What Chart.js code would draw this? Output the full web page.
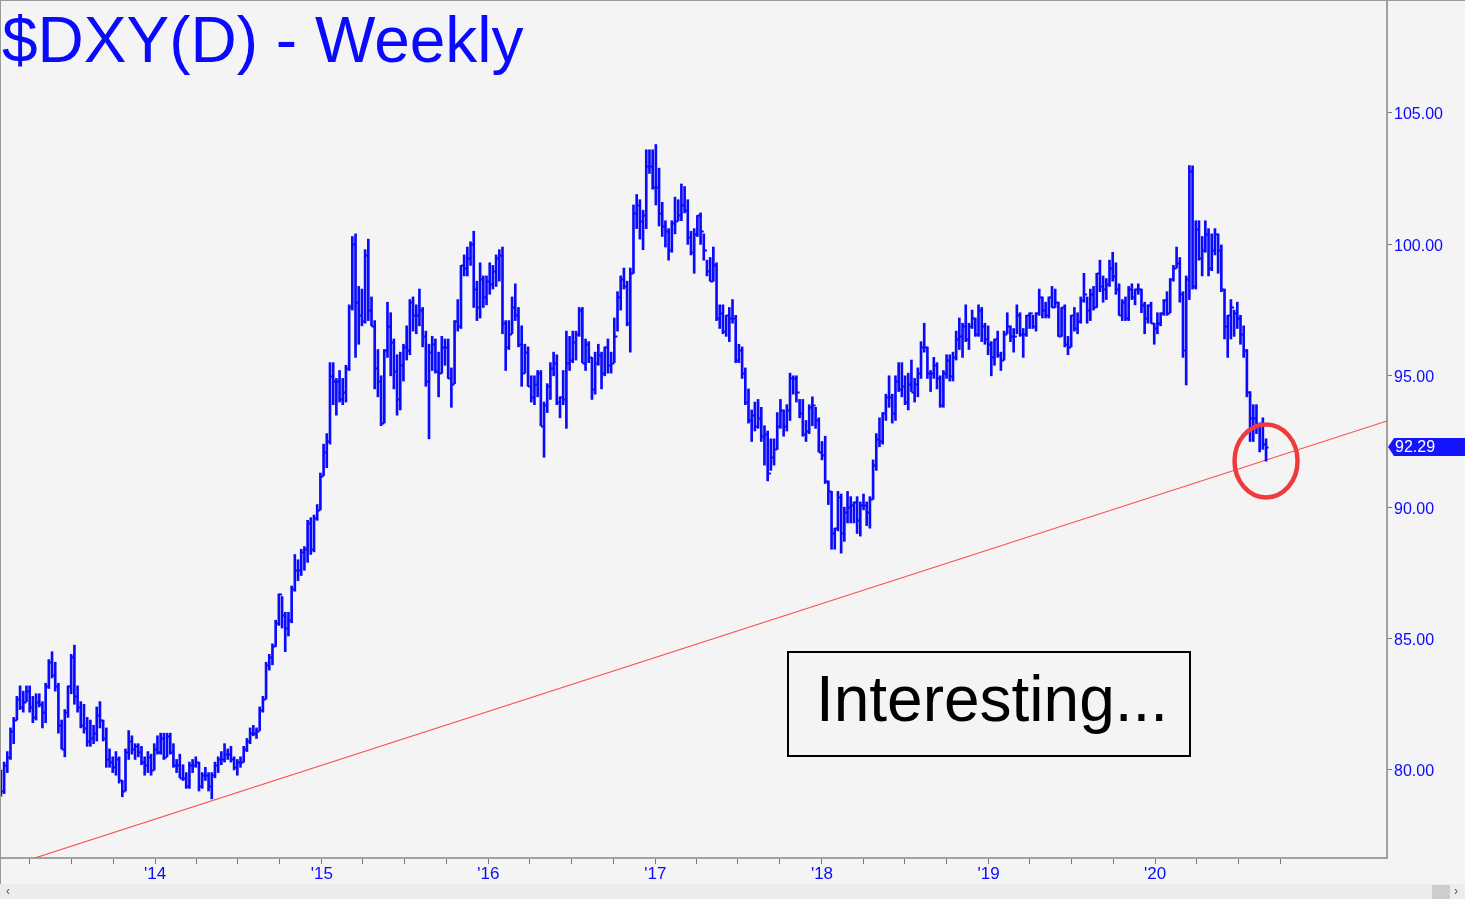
<!DOCTYPE html>
<html>
<head>
<meta charset="utf-8">
<title>$DXY(D) - Weekly</title>
<script src="https://cdn.jsdelivr.net/npm/chart.js@4.4.1/dist/chart.umd.min.js"></script>
<style>
  body { margin:0; background:#f4f4f4; width:1465px; height:899px; overflow:hidden; font-family:"Liberation Sans", Arial, sans-serif; }
  #wrap { position:absolute; left:0; top:0; width:1465px; height:884px; }
  #frame { position:absolute; left:0; top:0; width:1465px; height:884px; box-sizing:border-box; border-left:1px solid #9a9a9a; border-top:1px solid #9a9a9a; pointer-events:none; }
  #title { position:absolute; left:2px; top:8px; font-size:64px; line-height:64px; color:#0a0aff; white-space:nowrap; }
  #note { position:absolute; left:787px; top:651px; width:404px; height:106px; box-sizing:border-box; border:2px solid #000; text-align:center; }
  #note span { display:block; font-size:64px; line-height:64px; padding-top:14px; padding-left:6px; color:#000; }
  #scroll { position:absolute; left:0; top:884px; width:1465px; height:15px; background:#ececec; font-size:12px; color:#555; }
  #scroll .l { position:absolute; left:6px; top:0; line-height:15px; }
  #scroll .r { position:absolute; left:1454px; top:0; line-height:15px; }
  #scroll .thumb { position:absolute; left:1432px; top:1px; width:18px; height:14px; background:#cdcdcd; }
</style>
</head>
<body>
<div id="wrap"><canvas id="chart" width="1465" height="884"></canvas></div>
<div id="frame"></div>
<div id="title">$DXY(D) - Weekly</div>
<div id="note"><span>Interesting...</span></div>
<div id="scroll"><span class="l">&lsaquo;</span><div class="thumb"></div><span class="r">&rsaquo;</span></div>
<script>
// ---- Data: weekly bars, first week starts Mon 28 Jan 2013 ----
const firstWeek = Date.UTC(2013, 0, 28);
const WEEK = 7 * 24 * 3600 * 1000;

const highs = [
  // 2013
  80.0,80.3,80.7,81.6,82.0,82.8,83.2,83.0,83.2,83.2,82.8,82.9,82.9,82.6,83.3,84.2,84.5,84.1,83.3,81.9,82.3,83.2,84.4,84.75,
  83.2,82.6,82.5,82.0,81.9,81.7,82.4,82.6,81.9,81.6,80.8,80.5,80.7,80.5,79.6,80.8,81.5,81.3,81.0,81.0,80.9,80.5,80.7,80.6,
  // 2014
  81.0,81.3,81.4,81.4,81.4,81.4,81.0,80.4,80.6,80.2,79.9,80.3,80.4,80.5,80.3,79.9,80.1,79.9,79.9,80.3,80.5,80.7,81.0,80.8,80.9,80.5,
  80.4,80.5,80.9,81.2,81.6,81.7,81.6,82.4,82.8,84.1,84.4,84.8,85.7,86.7,86.6,86.0,86.0,87.0,88.2,88.0,88.4,88.5,89.5,89.6,89.7,90.1,
  // 2015
  91.3,92.4,92.8,95.5,95.5,94.9,95.2,94.9,95.4,97.7,100.3,100.4,98.4,98.3,99.8,100.2,98.0,97.1,96.0,95.0,96.0,97.8,97.4,96.4,95.8,95.9,
  96.2,96.9,97.9,98.0,97.7,98.3,97.6,96.7,96.2,96.5,96.4,95.9,96.5,96.4,96.4,95.3,97.1,97.9,99.2,99.6,99.9,100.1,100.5,98.6,99.3,98.8,
  // 2016
  98.8,99.3,99.2,99.6,99.8,99.9,97.1,97.1,98.0,98.5,97.6,96.9,96.2,96.1,95.0,95.0,95.2,95.2,94.0,94.7,95.5,95.9,95.8,94.2,95.2,96.7,96.5,
  96.7,96.7,97.6,97.6,96.4,96.3,95.7,95.9,96.2,95.9,96.1,96.4,95.9,97.2,98.2,98.8,99.1,98.6,99.1,101.5,101.9,101.7,101.3,103.6,103.6,103.6,
  // 2017
  103.8,102.9,101.6,100.9,100.6,100.9,101.8,101.7,102.3,102.2,101.7,100.5,100.6,101.1,101.2,100.4,99.4,99.5,99.9,99.3,97.7,97.7,97.3,97.6,97.9,97.3,
  96.2,96.1,95.3,94.5,93.7,94.0,94.1,93.8,93.1,92.9,92.6,92.6,93.6,94.1,93.7,93.9,95.1,95.0,95.0,94.1,94.1,93.3,93.9,94.2,93.8,93.4,
  // 2018
  92.5,92.7,91.0,90.6,89.2,90.6,90.5,90.0,90.6,90.4,90.2,90.4,90.2,90.5,90.2,90.4,91.8,92.8,93.4,93.6,94.3,95.0,94.3,95.0,95.5,95.5,
  95.0,95.1,95.6,94.9,95.3,96.3,97.0,96.1,95.2,95.7,95.5,95.0,95.2,95.8,95.8,95.9,96.7,97.2,97.0,97.7,97.0,97.5,97.2,97.7,97.6,97.0,
  // 2019
  96.9,96.3,96.4,96.7,95.9,96.7,97.4,96.9,96.8,97.7,97.4,96.8,97.3,97.4,97.3,97.4,98.3,98.0,97.8,98.0,98.4,98.3,97.8,97.6,97.7,96.5,
  97.3,97.6,97.4,98.0,98.9,98.0,98.3,98.4,98.9,99.4,98.8,98.7,99.4,99.7,99.3,98.5,97.9,98.0,98.4,98.5,98.3,98.5,98.3,97.8,97.7,97.8,
  // 2020
  97.0,97.4,97.4,97.9,98.2,98.7,99.2,99.9,99.5,98.2,98.8,103.0,102.99,100.9,100.9,100.3,100.9,100.6,
  100.4,100.6,100.4,99.98,98.3,97.3,97.9,97.5,97.8,97.3,96.9,96.0,94.4,93.9,93.9,93.2,93.4,92.6
];

const lows = [
  // 2013
  79.0,79.1,79.9,80.4,81.0,81.9,82.3,82.2,82.6,82.2,81.8,81.9,82.4,81.6,81.8,83.1,83.5,83.0,81.4,80.8,80.5,82.0,82.9,82.5,
  82.2,81.6,81.4,80.9,80.9,81.0,81.1,81.6,81.1,80.1,80.1,79.9,79.8,79.5,78.98,79.2,80.4,80.6,80.4,80.5,80.2,79.8,79.9,79.8,
  // 2014
  80.0,80.6,80.6,80.4,80.5,80.6,80.1,79.9,79.7,79.6,79.3,79.3,79.9,80.1,79.2,79.3,79.6,79.2,78.9,79.7,79.9,80.2,80.3,80.4,80.3,80.0,
  79.8,80.1,80.3,80.7,81.0,81.3,81.2,81.5,82.2,82.7,83.8,84.0,84.7,85.5,85.4,84.5,85.1,85.6,86.8,87.2,87.4,87.6,87.9,88.2,88.3,89.5,
  // 2015
  89.9,91.2,91.5,92.4,93.9,93.5,94.0,93.9,94.0,95.2,97.5,95.7,96.2,96.9,97.0,97.1,96.9,94.5,94.2,93.1,93.2,95.7,95.0,94.5,93.5,93.7,
  94.8,95.6,95.8,96.7,96.6,96.9,96.1,94.6,92.6,95.2,95.1,94.2,95.1,95.4,94.9,93.8,94.7,96.7,96.8,98.8,98.8,99.2,97.6,97.1,97.2,97.6,
  // 2016
  97.7,98.1,98.3,98.4,98.6,96.6,95.2,96.0,96.6,97.1,96.1,94.6,95.1,94.6,94.0,93.9,94.2,93.1,91.9,93.6,94.1,95.0,93.9,93.4,93.9,93.0,95.2,
  95.5,95.6,96.5,95.5,95.2,95.5,94.1,94.3,95.4,94.5,95.0,95.1,95.1,95.5,96.7,97.5,98.3,96.9,95.9,98.9,100.6,100.2,99.8,100.6,102.7,102.1,
  // 2017
  101.5,100.7,100.3,99.9,99.4,99.7,100.4,100.9,100.9,101.2,100.0,99.6,98.9,100.3,100.0,99.4,98.8,98.6,98.6,97.1,96.8,96.6,96.5,96.3,97.0,95.5,
  95.5,94.9,93.9,93.2,92.5,92.9,93.0,92.5,91.6,91.0,91.4,91.6,92.2,93.0,92.7,92.9,93.3,94.3,94.0,93.4,92.7,92.5,92.8,93.1,93.0,92.1,
  // 2018
  91.8,90.9,90.1,88.4,88.4,89.1,88.25,88.7,89.4,89.4,89.4,89.0,88.9,89.9,89.3,89.2,90.3,91.4,92.3,92.4,93.3,93.8,93.2,93.3,94.4,94.2,
  93.9,93.7,94.4,94.0,94.2,94.9,95.9,94.9,94.4,94.9,94.5,93.8,93.8,94.9,94.8,94.8,95.6,96.0,95.7,96.3,96.0,96.8,96.5,96.5,96.3,96.2,
  // 2019
  95.8,95.0,95.4,95.7,95.2,95.6,96.6,96.3,95.9,96.6,96.5,95.7,96.5,96.8,96.8,96.7,97.3,97.2,97.2,97.2,97.6,97.6,96.5,96.5,96.1,95.8,
  96.1,96.7,96.6,97.0,97.8,97.0,97.1,97.5,97.6,98.2,97.8,97.9,98.4,98.6,98.1,97.3,97.1,97.1,97.1,97.9,97.7,98.1,97.4,96.6,97.0,97.0,
  // 2020
  96.2,96.6,96.9,97.3,97.3,97.4,98.6,99.1,97.8,95.7,94.65,97.9,98.3,98.3,99.4,98.8,99.7,98.8,
  99.0,99.6,98.9,98.2,96.4,95.7,96.4,96.5,96.8,96.2,95.7,94.2,92.5,92.5,92.8,92.1,92.2,91.75
];

const closes = [
  // 2013
  79.2,80.2,80.5,81.5,81.9,82.7,82.4,82.6,83.0,82.4,82.0,82.6,82.5,82.2,83.2,84.1,83.6,83.2,81.7,80.8,82.2,83.2,84.3,82.8,
  82.4,81.7,81.6,81.1,81.2,81.4,82.1,81.9,81.2,80.4,80.3,80.1,80.4,79.6,79.2,80.7,81.1,80.8,80.9,80.7,80.3,80.2,80.5,80.0,
  // 2014
  80.8,80.7,81.2,80.5,81.3,80.7,80.2,80.2,79.7,79.7,79.4,80.2,80.2,80.3,79.4,79.8,79.8,79.4,79.8,80.2,80.4,80.4,80.6,80.6,80.4,80.1,
  80.3,80.3,80.8,81.1,81.4,81.4,81.5,82.3,82.7,84.0,84.3,84.7,85.6,86.7,85.9,85.4,85.7,86.9,87.6,87.6,88.3,88.4,89.4,88.4,89.6,89.9,
  // 2015
  91.2,92.1,92.5,95.0,94.8,94.8,94.1,94.4,95.3,97.6,100.0,97.8,97.3,97.1,99.6,97.5,96.9,95.3,94.8,93.2,96.0,96.9,96.3,95.2,94.1,95.4,
  96.1,96.0,97.8,97.3,97.3,97.5,96.5,94.8,95.9,96.2,95.2,95.1,96.1,96.1,94.9,94.7,97.1,96.9,99.2,99.1,99.5,100.0,98.3,97.6,98.7,98.0,
  // 2016
  98.6,98.5,99.0,99.5,99.6,97.0,96.1,96.6,97.6,97.3,96.2,95.1,95.9,94.6,94.2,94.7,95.1,93.1,93.9,94.6,95.3,95.5,94.0,94.2,94.1,95.5,95.6,
  96.3,96.6,97.5,95.5,96.2,95.7,94.5,95.5,95.8,95.1,96.1,95.4,95.5,96.5,98.0,98.7,98.4,97.0,98.9,101.2,101.5,100.9,101.1,103.0,103.0,102.2,
  // 2017
  102.2,101.2,100.7,100.5,99.8,100.8,100.9,101.1,101.5,101.3,100.3,99.7,100.4,101.1,100.5,99.8,99.0,98.6,99.2,97.2,97.4,96.7,97.3,97.2,97.2,95.6,
  96.0,95.1,94.0,93.3,93.5,93.1,93.4,92.7,92.8,91.3,91.9,92.2,93.1,93.7,93.1,93.7,94.9,94.9,94.4,93.6,92.8,92.9,93.8,93.9,93.3,92.1,
  // 2018
  92.0,91.0,90.6,89.0,89.2,90.4,89.0,89.8,90.0,90.1,90.2,89.5,90.1,90.1,89.8,90.3,91.6,92.6,92.5,93.6,94.2,94.2,93.6,94.8,94.5,94.6,
  94.0,94.7,94.4,94.7,95.1,96.1,96.1,95.1,95.1,95.4,94.9,93.9,95.1,95.6,95.0,95.7,96.4,96.5,96.9,96.4,96.9,97.2,96.6,97.5,96.9,96.4,
  // 2019
  96.2,95.7,96.4,95.8,95.6,96.6,96.9,96.5,96.5,97.3,96.6,96.6,97.3,97.4,96.9,97.4,98.0,97.5,97.3,98.0,97.6,97.8,96.5,97.6,96.2,96.1,
  97.3,96.8,97.1,97.9,98.1,97.5,98.1,97.6,98.9,98.4,98.3,98.5,99.1,98.8,98.3,97.3,97.8,97.2,98.3,98.0,98.3,98.3,97.7,97.2,97.7,97.0,
  // 2020
  96.8,97.0,97.4,97.9,97.4,98.7,99.1,99.3,98.1,96.0,98.7,102.8,98.4,100.6,99.5,99.8,100.4,99.1,
  99.8,100.4,99.8,98.3,96.9,97.3,97.6,97.4,97.2,96.6,96.0,94.4,93.4,93.4,93.1,93.2,92.4,92.29
];

const yTicks = [80, 85, 90, 95, 100, 105];
const lastPrice = 92.29;

// trendline (drawn red) and the circled spot
const trendDates = [Date.UTC(2013, 3, 12), Date.UTC(2021, 4, 23)];
const trendValues = [76.65, 93.28];
const circleDate = Date.UTC(2020, 7, 31);
const circleValue = 91.76;

const xMin = Date.UTC(2013, 0, 26), xMax = Date.UTC(2021, 4, 23);
const yMin = 76.65, yMax = 109.3;

const dates = highs.map((_, i) => firstWeek + i * WEEK);

// quarter ticks Apr 2013 .. Oct 2020, labels on January only
const quarterTicks = [];
for (let yr = 2013; yr <= 2020; yr++) {
  for (let m = 0; m < 12; m += 3) {
    const t = Date.UTC(yr, m, 1);
    if (t > xMin && t <= Date.UTC(2020, 9, 1)) quarterTicks.push(t);
  }
}

const BLUE = '#0a0aff';

// open tick (prev close) on the left, close tick on the right
const ohlcTicks = {
  id: 'ohlcTicks',
  afterDatasetsDraw(chart) {
    const { ctx, scales: { x, y } } = chart;
    ctx.save();
    ctx.strokeStyle = BLUE;
    ctx.lineWidth = 1.8;
    ctx.beginPath();
    closes.forEach((c, i) => {
      const px = x.getPixelForValue(dates[i]);
      if (i > 0) {
        const yo = Math.round(y.getPixelForValue(closes[i - 1])) + 0.5;
        ctx.moveTo(px - 2.5, yo); ctx.lineTo(px, yo);
      }
      const yc = Math.round(y.getPixelForValue(c)) + 0.5;
      ctx.moveTo(px, yc); ctx.lineTo(px + 2.5, yc);
    });
    ctx.stroke();
    ctx.restore();
  }
};

const marks = {
  id: 'marks',
  afterDraw(chart) {
    const { ctx, scales: { x, y } } = chart;
    // red circle
    ctx.save();
    ctx.strokeStyle = '#ef3b3b';
    ctx.lineWidth = 4.5;
    ctx.beginPath();
    ctx.ellipse(x.getPixelForValue(circleDate), y.getPixelForValue(circleValue), 31.5, 36.5, 0, 0, Math.PI * 2);
    ctx.stroke();
    // last price tag
    const yc = Math.round(y.getPixelForValue(lastPrice));
    const x0 = chart.chartArea.right + 1;
    ctx.fillStyle = '#1414ff';
    ctx.beginPath();
    ctx.moveTo(x0, yc);
    ctx.lineTo(x0 + 6, yc - 9);
    ctx.lineTo(1465, yc - 9);
    ctx.lineTo(1465, yc + 9);
    ctx.lineTo(x0 + 6, yc + 9);
    ctx.closePath();
    ctx.fill();
    ctx.fillStyle = '#ffffff';
    ctx.font = '16px "Liberation Sans", Arial, sans-serif';
    ctx.textBaseline = 'middle';
    ctx.fillText(lastPrice.toFixed(2), x0 + 7, yc + 1);
    ctx.restore();
  }
};

new Chart(document.getElementById('chart'), {
  type: 'bar',
  data: {
    datasets: [{
      label: 'DXY',
      data: dates.map((d, i) => ({ x: d, y: [lows[i], highs[i]] })),
      backgroundColor: BLUE,
      borderWidth: 0,
      barThickness: 2,
      grouped: false
    }, {
      type: 'line',
      label: 'trend',
      data: trendDates.map((d, i) => ({ x: d, y: trendValues[i] })),
      borderColor: '#ff4d4d',
      borderWidth: 1.2,
      pointRadius: 0
    }]
  },
  options: {
    responsive: false,
    animation: false,
    events: [],
    layout: { padding: 0 },
    plugins: { legend: { display: false }, tooltip: { enabled: false }, title: { display: false } },
    scales: {
      x: {
        type: 'linear',
        min: xMin, max: xMax,
        offset: false,
        afterBuildTicks: s => { s.ticks = quarterTicks.map(v => ({ value: v })); },
        afterFit: s => { s.height = 26; s.paddingLeft = 0; s.paddingRight = 0; },
        ticks: {
          autoSkip: false, maxRotation: 0, padding: 0,
          color: BLUE,
          font: { family: '"Liberation Sans", Arial, sans-serif', size: 17 },
          callback: v => {
            const d = new Date(v);
            return d.getUTCMonth() === 0 ? "'" + String(d.getUTCFullYear()).slice(2) : '';
          }
        },
        grid: { drawOnChartArea: false, offset: false, tickLength: 6, color: '#777', lineWidth: 1 },
        border: { display: true, color: '#a0a0a0', width: 2 }
      },
      y: {
        type: 'linear',
        position: 'right',
        min: yMin, max: yMax,
        beginAtZero: false,
        afterBuildTicks: s => { s.ticks = yTicks.map(v => ({ value: v })); },
        afterFit: s => { s.width = 78; s.paddingTop = 0; s.paddingBottom = 0; },
        ticks: {
          padding: 2,
          labelOffset: 2,
          color: BLUE,
          font: { family: '"Liberation Sans", Arial, sans-serif', size: 16 },
          callback: v => v.toFixed(2)
        },
        grid: { drawOnChartArea: false, tickLength: 5, color: '#777', lineWidth: 1 },
        border: { display: true, color: '#a0a0a0', width: 2 }
      }
    }
  },
  plugins: [ohlcTicks, marks]
});
</script>
</body>
</html>
